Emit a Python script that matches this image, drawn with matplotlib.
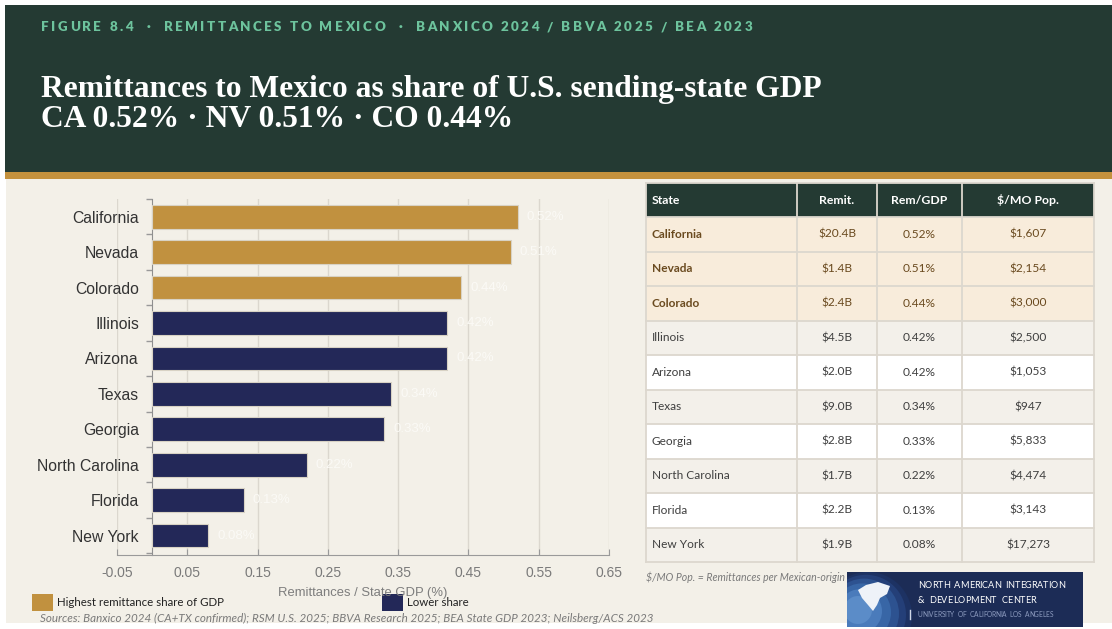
import matplotlib
matplotlib.use("Agg")
import matplotlib.pyplot as plt
from matplotlib.patches import Rectangle, Circle, Polygon
from matplotlib.font_manager import FontProperties, findfont, get_font
from matplotlib.ticker import FixedLocator

plt.rcParams["font.family"] = ["Liberation Sans", "DejaVu Sans"]

# ---------------- data ----------------
states = ["California", "Nevada", "Colorado", "Illinois", "Arizona",
          "Texas", "Georgia", "North Carolina", "Florida", "New York"]
share_gdp = [0.52, 0.51, 0.44, 0.42, 0.42, 0.34, 0.33, 0.22, 0.13, 0.08]
remittances = ["$20.4B", "$1.4B", "$2.4B", "$4.5B", "$2.0B",
               "$9.0B", "$2.8B", "$1.7B", "$2.2B", "$1.9B"]
per_mexican_origin = ["$1,607", "$2,154", "$3,000", "$2,500", "$1,053",
                      "$947", "$5,833", "$4,474", "$3,143", "$17,273"]
n_highlight = 3
x_ticks = [-0.05, 0.05, 0.15, 0.25, 0.35, 0.45, 0.55, 0.65]
table_columns = ["State", "Remit.", "Rem/GDP", "$/MO Pop."]

# ---------------- palette ----------------
DARK_GREEN = "#243a33"
GOLD = "#c1913f"
GOLD_LINE = "#c4913d"
NAVY = "#232858"
CREAM = "#f3f0e8"
MINT = "#6dc39d"
ROW_HL = "#f8ecdb"
ROW_GRAY = "#f3f0ea"
GRID_TBL = "#dcd7ce"
BROWN = "#6a4a1f"

W, H, DPI = 1112, 629, 100
fig = plt.figure(figsize=(W / DPI, H / DPI), dpi=DPI, facecolor="white")

# background / decoration layer in pixel coordinates
bg = fig.add_axes([0, 0, 1, 1], zorder=0)
bg.set_xlim(0, W)
bg.set_ylim(H, 0)
bg.axis("off")

bg.add_patch(Rectangle((6, 179), W - 6, 444, color=CREAM, lw=0))
bg.add_patch(Rectangle((5, 5), W - 5, 168, color=DARK_GREEN, lw=0))
bg.add_patch(Rectangle((5, 172), W - 5, 7, color=GOLD_LINE, lw=0))


def advance_width(s, fp):
    font = get_font(findfont(fp))
    font.set_size(fp.get_size_in_points(), DPI)
    return sum(font.load_char(ord(c)).linearHoriAdvance / 65536 for c in s)


def spaced_text(ax, x, y, s, width, fp, color, zorder=3):
    natural = advance_width(s, fp)
    gap = (width - natural) / max(len(s) - 1, 1)
    font = get_font(findfont(fp))
    font.set_size(fp.get_size_in_points(), DPI)
    cx = x
    for ch in s:
        ax.text(cx, y, ch, fontproperties=fp, color=color, va="baseline",
                ha="left", parse_math=False, zorder=zorder)
        cx += font.load_char(ord(ch)).linearHoriAdvance / 65536 + gap


# header kicker
kicker = "FIGURE 8.4  \u00b7  REMITTANCES TO MEXICO  \u00b7  BANXICO 2024 / BBVA 2025 / BEA 2023"
spaced_text(bg, 41, 31, kicker, 711,
            FontProperties(family="Lato", weight="heavy", size=9.6), MINT)

# title lines, sized to their measured widths
title1 = "Remittances to Mexico as share of U.S. sending-state GDP"
title2 = "CA 0.52% \u00b7 NV 0.51% \u00b7 CO 0.44%"
fp_t = FontProperties(family="Liberation Serif", weight="bold", size=20)
t_size = 20 * 781 / advance_width(title1, fp_t)
fp_t = FontProperties(family="Liberation Serif", weight="bold", size=t_size)
bg.text(41, 97, title1, fontproperties=fp_t, color="white", va="baseline",
        ha="left", parse_math=False)
bg.text(41, 127, title2, fontproperties=fp_t, color="white", va="baseline",
        ha="left", parse_math=False)

# ---------------- bar chart ----------------
ax = fig.add_axes([117 / W, 1 - 555 / H, (609 - 117) / W, (555 - 199) / H],
                  zorder=1)
ax.set_facecolor("none")
ypos = list(range(len(states)))
colors = [GOLD if i < n_highlight else NAVY for i in ypos]
ax.barh(ypos, share_gdp, height=0.67, color=colors,
        edgecolor="#d8d2c4", linewidth=0.8, zorder=3)
for y, v in zip(ypos, share_gdp):
    ax.text(v + 0.013, y, f"{v:.2f}%", color="#fbfaf6", fontsize=9.5,
            va="center", ha="left", zorder=4)

ax.set_xlim(-0.05, 0.65)
ax.set_ylim(len(states) - 0.45, -0.5)
ax.xaxis.set_major_locator(FixedLocator(x_ticks))
ax.set_xticklabels([f"{t:.2f}" for t in x_ticks])
ax.grid(axis="x", color="#dbd7ce", lw=1, zorder=0)
ax.set_axisbelow(True)

ax.set_yticks(ypos)
ax.set_yticklabels(states)
ax.set_yticks([i - 0.5 for i in range(len(states) + 1)], minor=True)
ax.tick_params(axis="y", which="major", length=0, pad=9.5,
               labelsize=11.3, labelcolor="#333333")
ax.tick_params(axis="y", which="minor", length=4, color="#999999", width=1)
ax.tick_params(axis="x", which="major", length=4, direction="in",
               color="#9a9a9a", labelsize=10, labelcolor="#7a7a7a", pad=8)

ax.spines["left"].set_position(("data", 0))
ax.spines["left"].set_color("#8f8f8f")
ax.spines["bottom"].set_color("#9a9a9a")
ax.spines["top"].set_visible(False)
ax.spines["right"].set_visible(False)
ax.set_xlabel("Remittances / State GDP (%)", fontsize=9.4, color="#7d7d7d",
              labelpad=5)

# legend
bg.add_patch(Rectangle((32, 594), 21, 17, color=GOLD, lw=0))
bg.text(57, 603, "Highest remittance share of GDP", fontsize=8.3,
        family="Lato", color="#222222", va="center", ha="left")
bg.add_patch(Rectangle((382, 594), 21, 17, color=NAVY, lw=0))
bg.text(407, 603, "Lower share", fontsize=8.3, family="Lato",
        color="#222222", va="center", ha="left")

bg.text(40, 618, "Sources: Banxico 2024 (CA+TX confirmed); RSM U.S. 2025; BBVA "
        "Research 2025; BEA State GDP 2023; Neilsberg/ACS 2023",
        fontsize=8.4, family="Lato", style="italic", color="#7a7a7a",
        va="center", ha="left")

# ---------------- table ----------------
col_edges = [646, 797, 877, 962, 1094]
head_top, head_bot = 183, 217
row_h = (562 - head_bot) / len(states)

bg.add_patch(Rectangle((col_edges[0], head_top), col_edges[-1] - col_edges[0],
                       head_bot - head_top, color=DARK_GREEN, lw=0))
for i, name in enumerate(table_columns):
    cy = (head_top + head_bot) / 2
    if i == 0:
        bg.text(col_edges[0] + 6, cy, name, fontsize=8.8, family="Lato",
                weight="bold", color="white", va="center", ha="left",
                parse_math=False)
    else:
        bg.text((col_edges[i] + col_edges[i + 1]) / 2, cy, name, fontsize=8.8,
                family="Lato", weight="bold", color="white", va="center",
                ha="center", parse_math=False)

for r, st in enumerate(states):
    top = head_bot + r * row_h
    cy = top + row_h / 2
    if r < n_highlight:
        fill, tcol, wt = ROW_HL, BROWN, "bold"
    else:
        fill = ROW_GRAY if (r - n_highlight) % 2 == 0 else "white"
        tcol, wt = "#3f3f3f", "normal"
    bg.add_patch(Rectangle((col_edges[0], top), col_edges[-1] - col_edges[0],
                           row_h, color=fill, lw=0))
    vals = [st, remittances[r], f"{share_gdp[r]:.2f}%", per_mexican_origin[r]]
    for c, v in enumerate(vals):
        if c == 0:
            bg.text(col_edges[0] + 6, cy, v, fontsize=8.6, family="Lato",
                    weight=wt, color=tcol, va="center", ha="left",
                    parse_math=False)
        else:
            bg.text((col_edges[c] + col_edges[c + 1]) / 2, cy, v,
                    fontsize=8.6, family="Lato", color=tcol, va="center",
                    ha="center", parse_math=False)

# table rules
for r in range(len(states) + 1):
    y = head_bot + r * row_h
    bg.plot([col_edges[0], col_edges[-1]], [y, y], color=GRID_TBL, lw=1.3)
bg.plot([col_edges[0], col_edges[-1]], [head_top, head_top], color=GRID_TBL, lw=1.3)
for x in col_edges:
    bg.plot([x, x], [head_top, 562], color=GRID_TBL, lw=1.3)

bg.text(646, 577, "$/MO Pop. = Remittances per Mexican-origin resident",
        fontsize=7.6, family="Lato", style="italic", color="#7a7a7a",
        va="center", ha="left", parse_math=False)

# ---------------- logo ----------------
logo = Rectangle((847, 572), 236, 55, color="#1c2c56", lw=0, zorder=5)
bg.add_patch(logo)
for k, (rad, col) in enumerate([(44, "#1d3263"), (40, "#243f78"),
                                (35, "#2d5290"), (29, "#3866a6"),
                                (22, "#4a7bbb"), (14, "#5b8cc8")]):
    circ = Circle((868 - k * 2.0, 616 - k * 1.2), rad, color=col, lw=0,
                  zorder=6)
    bg.add_patch(circ)
    circ.set_clip_path(logo)
land = Polygon([(858, 590), (866, 585), (878, 582), (890, 586), (887, 594),
                (880, 598), (877, 605), (873, 611), (868, 605), (862, 598)],
               closed=True, color="#eef2f8", lw=0, zorder=7)
bg.add_patch(land)
land.set_clip_path(logo)
fp_logo = FontProperties(family="Lato", size=6.6)
spaced_text(bg, 918, 588, "NORTH  AMERICAN  INTEGRATION", 147, fp_logo,
            "white", zorder=9)
spaced_text(bg, 918, 603, "&  DEVELOPMENT  CENTER", 118, fp_logo, "white",
            zorder=9)
bg.plot([910, 910], [610, 619], color="#cfd6e6", lw=1, zorder=8)
spaced_text(bg, 918, 617, "UNIVERSITY  OF  CALIFORNIA  LOS  ANGELES", 135,
            FontProperties(family="Lato", size=4.8), "#8e9cc0", zorder=9)

fig.savefig("out.png", dpi=DPI, facecolor=fig.get_facecolor())
